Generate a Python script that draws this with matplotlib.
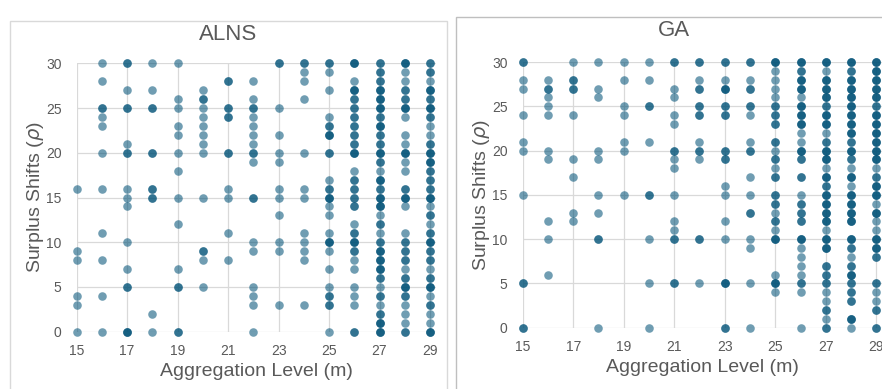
import numpy as np
import matplotlib
matplotlib.use("Agg")
import matplotlib.pyplot as plt
from matplotlib.patches import Rectangle

plt.rcParams['font.family'] = ['Liberation Sans Narrow', 'Liberation Sans', 'DejaVu Sans']

W, H = 882, 389
dot_color = '#035378'
text_color = '#595959'
grid_color = '#d9d9d9'

# ALNS results: aggregation level, surplus shifts, number of runs on that point
alns_x = [15]*6 + [16]*11 + [17]*12 + [18]*8 + [19]*12 + [20]*12 + [21]*8 + [22]*16 \
    + [23]*11 + [24]*12 + [25]*20 + [26]*25 + [27]*31 + [28]*27 + [29]*31
alns_y = [16, 9, 8, 4, 3, 0,
          30, 28, 25, 24, 23, 20, 16, 11, 8, 4, 0,
          30, 27, 25, 21, 20, 16, 15, 14, 10, 7, 5, 0,
          30, 27, 25, 20, 16, 15, 2, 0,
          30, 26, 25, 23, 22, 20, 18, 15, 12, 7, 5, 0,
          27, 26, 25, 24, 23, 22, 21, 20, 15, 9, 8, 5,
          28, 25, 24, 20, 16, 15, 11, 8,
          28, 26, 25, 24, 23, 22, 21, 20, 19, 15, 10, 9, 5, 4, 3, 0,
          30, 25, 22, 20, 19, 16, 15, 13, 10, 9, 3,
          30, 29, 28, 26, 20, 16, 15, 11, 10, 9, 8, 3,
          30, 29, 27, 24, 23, 22, 20, 17, 16, 15, 14, 13, 11, 10, 9, 7, 5, 4, 3, 0,
          30, 28, 27, 26, 25, 24, 23, 22, 21, 20, 18, 17, 16, 15, 14, 12, 11, 10, 9, 8, 7, 5, 4, 3, 0,
          30, 29, 28, 27, 26, 25, 24, 23, 22, 21, 20, 19, 18, 17, 16, 15,
          14, 13, 12, 11, 10, 9, 8, 7, 6, 5, 4, 3, 2, 1, 0,
          30, 29, 28, 27, 26, 25, 24, 22, 21, 20, 19, 18, 16, 15,
          14, 11, 10, 9, 8, 7, 6, 5, 4, 3, 2, 1, 0,
          30, 29, 28, 27, 26, 25, 24, 23, 22, 21, 20, 19, 18, 17, 16, 15,
          14, 13, 12, 11, 10, 9, 8, 7, 6, 5, 4, 3, 2, 1, 0]
alns_n = [1, 1, 1, 1, 1, 1,
          1, 1, 2, 1, 1, 1, 1, 1, 1, 1, 1,
          2, 1, 2, 1, 2, 1, 1, 1, 1, 1, 2, 3,
          1, 1, 2, 2, 2, 2, 1, 1,
          1, 1, 1, 1, 1, 1, 1, 1, 1, 1, 2, 2,
          1, 2, 1, 1, 1, 1, 1, 1, 1, 2, 1, 1,
          2, 2, 2, 2, 1, 1, 1, 1,
          1, 1, 2, 1, 1, 1, 1, 2, 1, 2, 1, 1, 1, 1, 1, 1,
          2, 1, 1, 1, 1, 1, 1, 1, 1, 1, 1,
          2, 1, 1, 1, 1, 1, 1, 1, 1, 1, 1, 1,
          2, 1, 1, 1, 2, 3, 2, 1, 2, 3, 1, 1, 1, 3, 1, 1, 1, 2, 2, 1,
          3, 1, 3, 2, 2, 2, 2, 2, 2, 3, 1, 2, 2, 2, 2, 1, 2, 3, 2, 1, 1, 1, 1, 1, 2,
          2, 2, 2, 3, 3, 3, 2, 3, 2, 2, 3, 2, 1, 3, 2, 3,
          3, 1, 2, 1, 2, 3, 3, 3, 2, 1, 2, 1, 2, 3, 3,
          3, 1, 1, 2, 2, 3, 1, 1, 1, 3, 1, 1, 2, 3,
          1, 1, 2, 2, 2, 1, 2, 3, 2, 1, 1, 1, 2,
          2, 2, 1, 3, 2, 3, 2, 1, 1, 2, 3, 3, 2, 2, 2, 3,
          1, 2, 1, 2, 3, 2, 2, 1, 2, 3, 1, 2, 1, 1, 3]

# GA results
ga_x = [15]*9 + [16]*10 + [17]*8 + [18]*9 + [19]*7 + [20]*8 + [21]*13 + [22]*10 \
    + [23]*13 + [24]*14 + [25]*22 + [26]*25 + [27]*30 + [28]*29 + [29]*28
ga_y = [30, 28, 27, 24, 21, 20, 15, 5, 0,
        28, 27, 26, 25, 24, 20, 19, 12, 10, 6,
        30, 28, 27, 24, 19, 17, 13, 12,
        30, 27, 26, 20, 19, 15, 13, 10, 0,
        30, 28, 25, 24, 21, 20, 15,
        30, 28, 25, 21, 15, 10, 5, 0,
        30, 27, 26, 24, 23, 20, 19, 18, 15, 12, 11, 10, 5,
        30, 28, 27, 25, 24, 21, 20, 19, 10, 5,
        30, 28, 27, 25, 24, 20, 19, 16, 15, 12, 10, 5, 0,
        30, 28, 27, 25, 24, 21, 20, 17, 15, 13, 10, 9, 5, 0,
        30, 29, 28, 27, 26, 25, 24, 23, 21, 20, 19, 18, 17, 15, 14, 13, 12, 11, 10, 6, 5, 4,
        30, 29, 28, 27, 26, 25, 24, 23, 22, 21, 20, 19, 17, 15, 14, 13, 12, 10, 9, 8, 7, 6, 5, 4, 0,
        30, 29, 28, 27, 26, 25, 24, 23, 22, 21, 20, 19, 18, 17, 16, 15,
        14, 13, 12, 11, 10, 9, 7, 6, 5, 4, 3, 2, 1, 0,
        30, 29, 28, 27, 26, 25, 24, 23, 22, 21, 20, 19, 18, 17, 16, 15,
        14, 13, 12, 10, 9, 8, 7, 6, 5, 4, 3, 1, 0,
        30, 29, 28, 27, 26, 25, 24, 23, 22, 21, 20, 19, 18, 17, 16, 15,
        14, 13, 12, 11, 10, 9, 8, 5, 4, 3, 2, 0]
ga_n = [2, 1, 1, 1, 1, 1, 1, 2, 2,
        1, 2, 1, 1, 1, 1, 1, 1, 1, 1,
        1, 2, 2, 1, 1, 1, 1, 1,
        1, 1, 1, 1, 1, 1, 1, 2, 1,
        1, 1, 1, 1, 1, 1, 1,
        1, 1, 2, 1, 2, 1, 1, 1,
        2, 1, 1, 1, 1, 2, 1, 1, 1, 1, 1, 2, 2,
        2, 1, 2, 2, 2, 1, 2, 1, 2, 1,
        2, 1, 3, 2, 2, 2, 2, 1, 1, 1, 1, 3, 2,
        2, 1, 2, 2, 1, 1, 2, 1, 1, 2, 1, 1, 1, 1,
        3, 1, 1, 1, 1, 2, 2, 2, 2, 1, 2, 1, 2, 2, 2, 1, 2, 1, 3, 1, 3, 1,
        3, 2, 3, 3, 1, 3, 3, 3, 1, 1, 3, 2, 2, 1, 2, 2, 2, 3, 1, 1, 1, 1, 2, 1, 1,
        3, 1, 3, 3, 3, 2, 3, 3, 1, 2, 3, 3, 1, 3, 2, 3,
        3, 3, 3, 1, 3, 3, 2, 2, 2, 1, 1, 2, 1, 2,
        3, 2, 3, 3, 3, 3, 3, 3, 3, 2, 3, 2, 1, 3, 1, 3,
        3, 3, 3, 3, 2, 1, 2, 3, 2, 2, 2, 3, 1,
        3, 3, 3, 3, 3, 2, 3, 3, 3, 3, 3, 3, 1, 2, 3, 3,
        1, 3, 1, 1, 3, 3, 2, 2, 1, 1, 2, 2]

x_ticks = [15, 17, 19, 21, 23, 25, 27, 29]
y_ticks = [0, 5, 10, 15, 20, 25, 30]


def fx(px):
    return px / W


def fy(py):
    return 1 - py / H


fig = plt.figure(figsize=(W / 100, H / 100), dpi=100)

# panel frames
fig.add_artist(Rectangle((fx(9.5), -0.1), fx(447) - fx(9.5), fy(21) + 0.1,
                         transform=fig.transFigure, fill=False,
                         edgecolor='#d9d9d9', lw=1.0))
fig.add_artist(Rectangle((fx(455.5), -0.1), 0.6, fy(17) + 0.1,
                         transform=fig.transFigure, fill=False,
                         edgecolor='#bfbfbf', lw=1.0))

panels = [
    ('ALNS', alns_x, alns_y, alns_n, (76.7, 436.3, 63.3, 331.7), (228, 34), (36, 197), 372),
    ('GA', ga_x, ga_y, ga_n, (522.7, 882.6, 62, 327.7), (674, 30), (482, 195), 368),
]

for title, xs, ys, ns, (x0, x1, y0, y1), tpos, ylpos, xl_y in panels:
    ax = fig.add_axes([fx(x0), fy(y1), fx(x1) - fx(x0), fy(y0) - fy(y1)])
    ax.set_xlim(15, 29.25)
    ax.set_ylim(0, 30)
    ax.set_xticks(x_ticks)
    ax.set_yticks(y_ticks)
    ax.grid(True, color=grid_color, lw=0.9)
    ax.set_axisbelow(True)
    for s in ax.spines.values():
        s.set_visible(False)
    ax.tick_params(length=0, colors=text_color, labelsize=10)
    ax.tick_params(axis='x', pad=9)
    ax.tick_params(axis='y', pad=11)
    ax.patch.set_alpha(0)

    px_ = np.repeat(xs, ns)
    py_ = np.repeat(ys, ns)
    ax.scatter(px_, py_, s=38, color=dot_color, alpha=0.57, linewidths=0,
               clip_on=False, zorder=3)

    fig.text(fx(tpos[0]), fy(tpos[1]), title, ha='center', va='center',
             fontsize=16, color=text_color)
    fig.text(fx(ylpos[0]), fy(ylpos[1]), r'Surplus Shifts ($\rho$)', ha='center',
             va='center', rotation=90, fontsize=14, color=text_color)
    fig.text(fx((x0 + x1) / 2), fy(xl_y), 'Aggregation Level (m)', ha='center',
             va='center', fontsize=14, color=text_color)

fig.savefig('out.png', dpi=100)
